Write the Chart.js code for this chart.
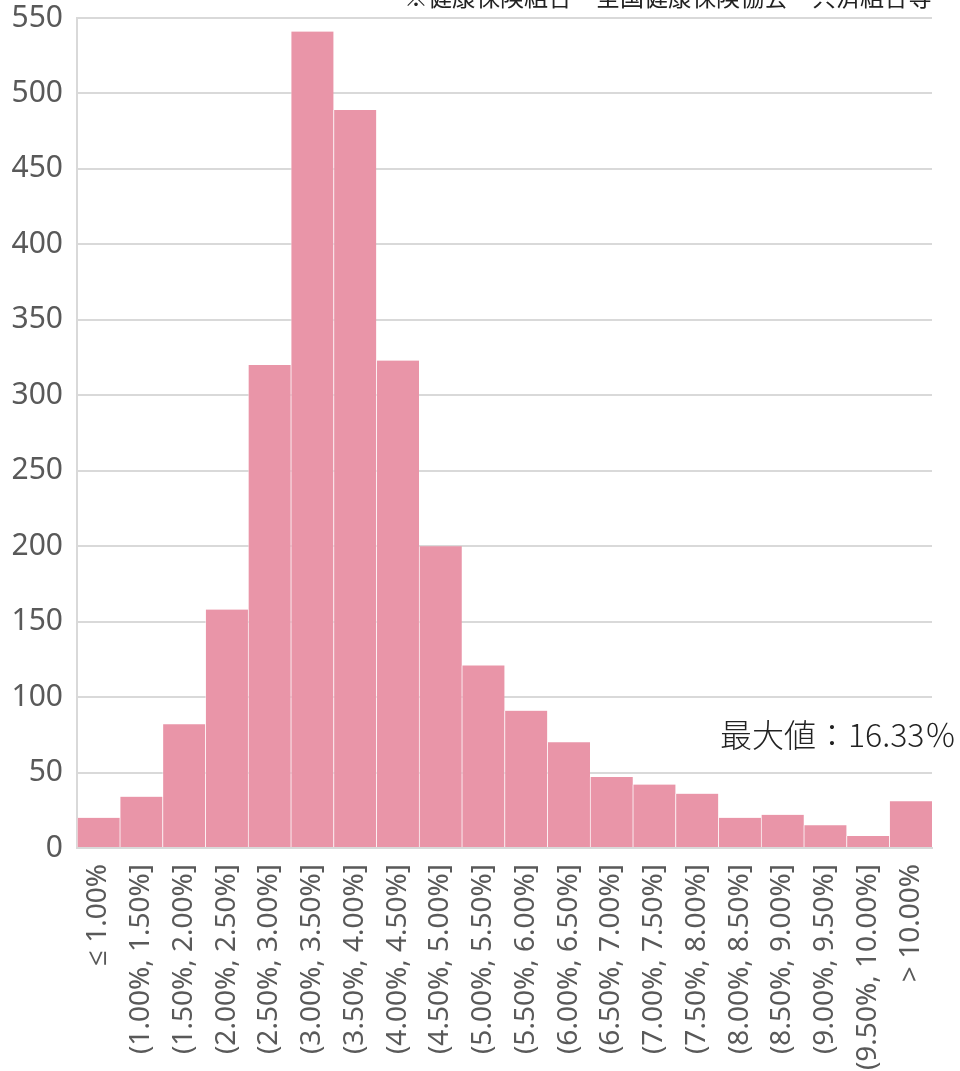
<!DOCTYPE html>
<html>
<head>
<meta charset="utf-8">
<script src="https://cdn.jsdelivr.net/npm/chart.js@4"></script>
<style>
  html, body { margin: 0; padding: 0; background: #fff; overflow: hidden; }
  #wrap { width: 960px; height: 1090px; }
</style>
</head>
<body>
<div id="wrap"><canvas id="histChart" width="960" height="1090"></canvas></div>
<script>
// 区間ラベル
const categories = [
  '≤ 1.00%', '(1.00%, 1.50%]', '(1.50%, 2.00%]', '(2.00%, 2.50%]', '(2.50%, 3.00%]',
  '(3.00%, 3.50%]', '(3.50%, 4.00%]', '(4.00%, 4.50%]', '(4.50%, 5.00%]', '(5.00%, 5.50%]',
  '(5.50%, 6.00%]', '(6.00%, 6.50%]', '(6.50%, 7.00%]', '(7.00%, 7.50%]', '(7.50%, 8.00%]',
  '(8.00%, 8.50%]', '(8.50%, 9.00%]', '(9.00%, 9.50%]', '(9.50%, 10.00%]', '> 10.00%'
];
// 件数
const counts = [20, 34, 82, 158, 320, 541, 489, 323, 200, 121, 91, 70, 47, 42, 36, 20, 22, 15, 8, 31];
const yTicks = [0, 50, 100, 150, 200, 250, 300, 350, 400, 450, 500, 550];
const noteText = '※健康保険組合　全国健康保険協会　共済組合等';
const maxText = '最大値：16.33％';

const numFont = "'Noto Sans', 'Open Sans', sans-serif";
const jpFont = "'Noto Sans CJK JP', sans-serif";

// 注記テキストを描く
const notesPlugin = {
  id: 'notes',
  afterDraw(chart) {
    const ctx = chart.ctx;
    const area = chart.chartArea;
    ctx.save();
    ctx.fillStyle = '#222';
    ctx.font = '24px ' + jpFont;
    ctx.textAlign = 'right';
    ctx.textBaseline = 'ideographic';
    ctx.fillText(noteText, area.right, 9);

    ctx.font = '300 32px ' + jpFont;
    ctx.textAlign = 'left';
    ctx.textBaseline = 'alphabetic';
    ctx.fillText(maxText, area.right - 212, 747);
    ctx.restore();
  }
};

new Chart(document.getElementById('histChart'), {
  type: 'bar',
  data: {
    labels: categories,
    datasets: [{
      data: counts,
      backgroundColor: 'rgb(233, 149, 168)',
      borderColor: 'rgba(255, 255, 255, 0.45)',
      borderWidth: { left: 1, right: 0, top: 0, bottom: 0 },
      categoryPercentage: 1.0,
      barPercentage: 1.0
    }]
  },
  options: {
    responsive: false,
    animation: false,
    layout: { padding: { top: 18, right: 28, left: 0, bottom: 0 } },
    plugins: {
      legend: { display: false },
      tooltip: { enabled: false }
    },
    scales: {
      x: {
        grid: { display: false },
        border: { display: true, color: '#d9d9d9', width: 2 },
        ticks: {
          color: '#595959',
          font: { family: numFont, size: 28 },
          minRotation: 90,
          maxRotation: 90,
          autoSkip: false,
          padding: 8
        },
        afterFit(scale) {
          scale.height = 242;
          scale.paddingLeft = 0;
          scale.paddingRight = 0;
        }
      },
      y: {
        min: 0,
        max: 550,
        afterBuildTicks(scale) { scale.ticks = yTicks.map(v => ({ value: v })); },
        grid: { color: '#d9d9d9', lineWidth: 2, drawTicks: false },
        border: { display: true, color: '#d9d9d9', width: 2 },
        ticks: {
          color: '#595959',
          font: { family: numFont, size: 30 },
          padding: 14
        },
        afterFit(scale) {
          scale.width = 77;
          scale.paddingTop = 0;
          scale.paddingBottom = 0;
        }
      }
    }
  },
  plugins: [notesPlugin]
});
</script>
</body>
</html>
